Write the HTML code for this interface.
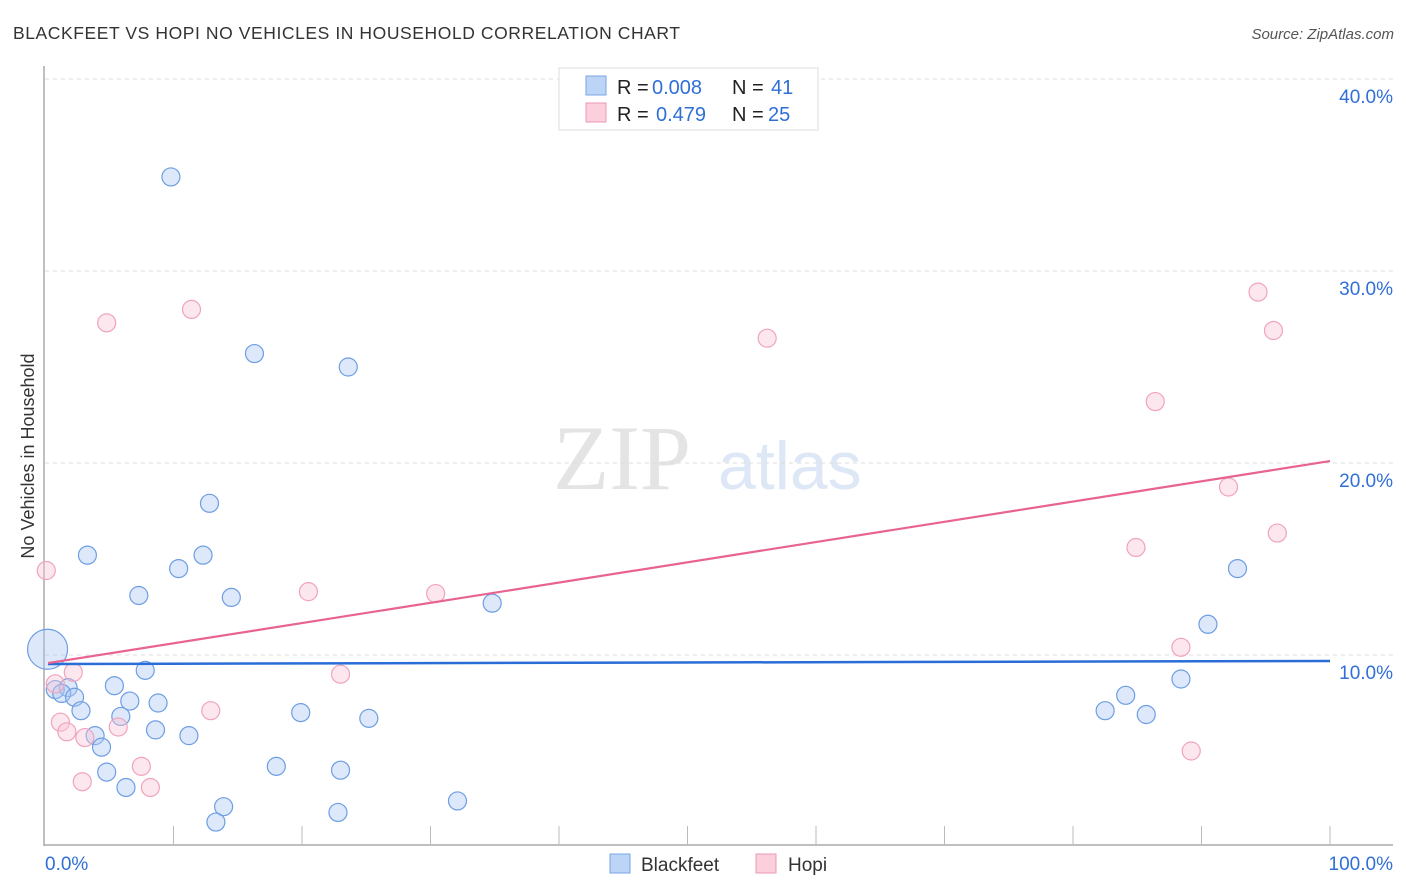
<!DOCTYPE html>
<html><head><meta charset="utf-8">
<style>
body{margin:0;background:#fff;font-family:"Liberation Sans",sans-serif;}
svg{display:block}
</style></head>
<body>
<svg id="chart" width="1406" height="892" viewBox="0 0 1406 892">
<text x="13" y="39" font-size="17.5" fill="#333" textLength="667" lengthAdjust="spacing">BLACKFEET VS HOPI NO VEHICLES IN HOUSEHOLD CORRELATION CHART</text>
<text x="1394" y="39" font-size="15" fill="#555" font-style="italic" text-anchor="end">Source: ZipAtlas.com</text>
<text transform="translate(34,456) rotate(-90)" font-size="18" fill="#333" text-anchor="middle">No Vehicles in Household</text>
<g>
<text x="553" y="489" font-family="Liberation Serif" font-size="92" fill="#e4e4e4">ZIP</text>
<text x="718" y="489" font-size="68" fill="#dde7f6">atlas</text>
</g>
<g id="grid"></g>
<g id="axes"></g>
<g id="marks"></g>
<g id="trends"></g>
<g>
<rect x="559" y="68" width="259" height="62" fill="#fff" stroke="#ddd"/>
<rect x="586" y="76" width="20" height="19" fill="#bcd4f5" stroke="#7aa6e6"/>
<rect x="586" y="103" width="20" height="19" fill="#fbcfdc" stroke="#ee9ab5"/>
<text x="617" y="94" font-size="20" fill="#222">R = <tspan x="652" fill="#2f6fd6">0.008</tspan></text>
<text x="732" y="94" font-size="20" fill="#222">N = <tspan x="771" fill="#2f6fd6">41</tspan></text>
<text x="617" y="121" font-size="20" fill="#222">R = <tspan x="656" fill="#2f6fd6">0.479</tspan></text>
<text x="732" y="121" font-size="20" fill="#222">N = <tspan x="768" fill="#2f6fd6">25</tspan></text>
</g>
<g>
<rect x="610" y="854" width="20" height="19" fill="#bcd4f5" stroke="#7aa6e6"/>
<text x="641" y="871" font-size="19" fill="#333">Blackfeet</text>
<rect x="756" y="854" width="20" height="19" fill="#fbcfdc" stroke="#ee9ab5"/>
<text x="788" y="871" font-size="19" fill="#333">Hopi</text>
</g>
</svg>
<script>
const yTicks=[10,20,30,40];
const yTickLabels=["10.0%","20.0%","30.0%","40.0%"];
const xLabels=["0.0%","100.0%"];
const blackX=[9.8,16.3,23.6,12.8,3.3,10.4,12.3,7.3,14.5,34.8,0.2,7.8,5.4,0.8,1.8,1.3,2.3,6.6,8.8,2.8,5.9,8.6,11.2,3.9,4.4,4.8,6.3,18.0,19.9,23.0,25.2,13.9,13.3,22.8,32.1,82.5,84.1,85.7,88.4,90.5,92.8];
const blackY=[34.9,25.7,25.0,17.9,15.2,14.5,15.2,13.1,13.0,12.7,10.3,9.2,8.4,8.2,8.3,8.0,7.8,7.6,7.5,7.1,6.8,6.1,5.8,5.8,5.2,3.9,3.1,4.2,7.0,4.0,6.7,2.1,1.3,1.8,2.4,7.1,7.9,6.9,8.75,11.6,14.5];
const blackBig=[0,0,0,0,0,0,0,0,0,0,1,0,0,0,0,0,0,0,0,0,0,0,0,0,0,0,0,0,0,0,0,0,0,0,0,0,0,0,0,0,0];
const hopiX=[0.1,4.8,11.4,20.5,30.4,23.0,12.9,0.8,2.2,1.2,1.7,3.1,5.7,7.5,8.2,2.9,56.2,86.4,84.9,88.4,89.2,92.1,94.4,95.6,95.9];
const hopiY=[14.4,27.3,28.0,13.3,13.2,9.0,7.1,8.5,9.1,6.5,6.0,5.7,6.25,4.2,3.1,3.4,26.5,23.2,15.6,10.4,5.0,18.75,28.9,26.9,16.35];
const blackTrend=[9.53,9.69];
const hopiTrend=[9.58,20.1];
const NS="http://www.w3.org/2000/svg";
const X0=45,X1=1330,Y0=847,PPY=19.2;
function sx(v){return X0+(X1-X0)*v/100;}
function sy(v){return Y0-v*PPY;}
function mk(tag,attrs,parent){const e=document.createElementNS(NS,tag);for(const k in attrs)e.setAttribute(k,attrs[k]);document.getElementById(parent).appendChild(e);return e;}
yTicks.forEach((t,i)=>{
  const l=mk('line',{x1:X0,x2:1393,y1:sy(t),y2:sy(t),stroke:'#ddd','stroke-dasharray':'4,4'},'grid');
  
  
  const tx=mk('text',{x:1393,y:sy(t)+24,'font-size':19,fill:'#2f6fd6','text-anchor':'end'},'grid');
  tx.textContent=yTickLabels[i];
  
  
});
const ax=mk('line',{x1:44,x2:44,y1:66,y2:846,stroke:'#aaa','stroke-width':1.5},'axes');


const bx=mk('line',{x1:44,x2:1393,y1:845,y2:845,stroke:'#aaa','stroke-width':1.5},'axes');


for(let i=1;i<=10;i++){
  const t=mk('line',{x1:sx(i*10),x2:sx(i*10),y1:826,y2:845,stroke:'#bbb'},'axes');
  
  
}
const xl0=mk('text',{x:45,y:870,'font-size':19,fill:'#2f6fd6'},'axes');xl0.textContent=xLabels[0];


const xl1=mk('text',{x:1393,y:870,'font-size':19,fill:'#2f6fd6','text-anchor':'end'},'axes');xl1.textContent=xLabels[1];


blackX.forEach((v,i)=>{
  const c=mk('circle',{cx:sx(v),cy:sy(blackY[i]),r:blackBig[i]?20:9,fill:'rgba(170,200,242,0.4)',stroke:'#6d9de3','stroke-width':1.2},'marks');
  
  
});
hopiX.forEach((v,i)=>{
  const c=mk('circle',{cx:sx(v),cy:sy(hopiY[i]),r:9,fill:'rgba(250,195,213,0.4)',stroke:'#f0a3bd','stroke-width':1.2},'marks');
  
  
});
const bt=mk('line',{x1:sx(0)+3,x2:sx(100),y1:sy(blackTrend[0]),y2:sy(blackTrend[1]),stroke:'#2a6dd6','stroke-width':2.5},'trends');


const ht=mk('line',{x1:sx(0)+3,x2:sx(100),y1:sy(hopiTrend[0]),y2:sy(hopiTrend[1]),stroke:'#e8638f','stroke-width':2.2},'trends');


</script>
</body></html>
